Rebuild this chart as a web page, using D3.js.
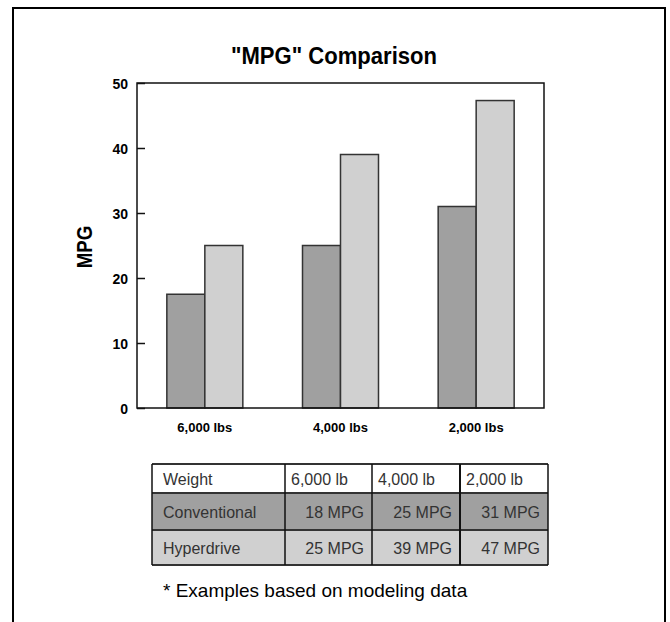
<!DOCTYPE html>
<html lang="en">
<head>
<meta charset="UTF-8">
<title>MPG Comparison</title>
<script src="https://d3js.org/d3.v7.min.js"></script>
<style>
  body { margin: 0; background: #fff; font-family: "Liberation Sans", Arial, sans-serif; }
  .tick text { font-weight: bold; font-size: 14px; }
</style>
</head>
<body>
<svg id="chart" width="670" height="622"></svg>
<script>
// data
const weights = ['6,000 lbs', '4,000 lbs', '2,000 lbs'];
const series = ['Conventional', 'Hyperdrive'];
const conventional = [17.5, 25, 31];
const hyperdrive = [25, 39, 47.3];
const yTicks = [0, 10, 20, 30, 40, 50];
const tableHead = ['Weight', '6,000 lb', '4,000 lb', '2,000 lb'];
const tableConv = ['Conventional', '18 MPG', '25 MPG', '31 MPG'];
const tableHyper = ['Hyperdrive', '25 MPG', '39 MPG', '47 MPG'];
const note = '* Examples based on modeling data';

const colors = { Conventional: '#a0a0a0', Hyperdrive: '#d0d0d0' };

const svg = d3.select('#chart');

// outer frame
svg.append('rect')
    .attr('x', 13).attr('y', 8)
    .attr('width', 652).attr('height', 640)
    .attr('fill', 'none')
    .attr('stroke', '#000')
    .attr('stroke-width', 2);

const plot = { left: 137, top: 83, right: 544, bottom: 408 };

const x = d3.scaleBand()
    .domain(weights)
    .range([plot.left, plot.right]);
const xs = d3.scaleBand()
    .domain(series)
    .range([0, 76]);
const y = d3.scaleLinear()
    .domain([0, 50])
    .range([plot.bottom, plot.top]);

// title (slightly condensed like the original)
svg.append('text')
    .attr('transform', 'translate(334,64) scale(0.92,1)')
    .attr('text-anchor', 'middle')
    .style('font-weight', 'bold')
    .style('font-size', '24px')
    .text('"MPG" Comparison');

// y label
svg.append('text')
    .attr('transform', 'translate(92,247) rotate(-90) scale(0.85,1)')
    .attr('text-anchor', 'middle')
    .style('font-weight', 'bold')
    .style('font-size', '22px')
    .text('MPG');

// bars
const rows = weights.map((w, i) => ({ w: w, vals: [conventional[i], hyperdrive[i]] }));
const groups = svg.append('g').selectAll('g')
    .data(rows)
    .join('g')
    .attr('transform', d => `translate(${x(d.w) + x.bandwidth() / 2 - 38},0)`);
groups.selectAll('rect')
    .data(d => d.vals.map((v, j) => ({ s: series[j], v: v })))
    .join('rect')
    .attr('x', d => xs(d.s))
    .attr('y', d => y(d.v))
    .attr('width', xs.bandwidth())
    .attr('height', d => y(0) - y(d.v))
    .attr('fill', d => colors[d.s])
    .attr('stroke', '#333')
    .attr('stroke-width', 1.5);

// plot frame
svg.append('rect')
    .attr('x', plot.left).attr('y', plot.top)
    .attr('width', plot.right - plot.left)
    .attr('height', plot.bottom - plot.top)
    .attr('fill', 'none')
    .attr('stroke', '#111')
    .attr('stroke-width', 1.5);

// y axis
const yAxis = svg.append('g')
    .attr('transform', `translate(${plot.left},0)`)
    .call(d3.axisLeft(y).tickValues(yTicks).tickSize(-8).tickPadding(9));
yAxis.select('.domain').remove();
yAxis.selectAll('.tick line').attr('stroke', '#111').attr('stroke-width', 1.5);
yAxis.selectAll('.tick text').attr('fill', '#000').attr('dy', '0.36em');

// x axis labels
const xAxis = svg.append('g')
    .attr('transform', `translate(0,${plot.bottom})`)
    .call(d3.axisBottom(x).tickSize(0).tickPadding(15));
xAxis.select('.domain').remove();
xAxis.selectAll('.tick text').attr('fill', '#000').style('font-size', '13px');

// table
const cols = [152, 285, 372, 460, 548];
const rowTops = [464, 493, 530, 565];
const tableRows = [
    { cells: tableHead, fill: '#fff' },
    { cells: tableConv, fill: colors.Conventional },
    { cells: tableHyper, fill: colors.Hyperdrive }
];
const table = svg.append('g');
tableRows.forEach((r, i) => {
    const top = rowTops[i], h = rowTops[i + 1] - rowTops[i];
    table.append('rect')
        .attr('x', cols[0]).attr('y', top)
        .attr('width', cols[4] - cols[0]).attr('height', h)
        .attr('fill', r.fill);
    r.cells.forEach((c, j) => {
        const right = i > 0 && j > 0;
        table.append('text')
            .attr('x', right ? cols[j + 1] - 8 : cols[j] + (j == 0 ? 11 : 6))
            .attr('y', top + h / 2 + 6)
            .attr('text-anchor', right ? 'end' : 'start')
            .attr('fill', '#333')
            .style('font-size', '16px')
            .text(c);
    });
});
rowTops.forEach(t => {
    table.append('line')
        .attr('x1', cols[0]).attr('x2', cols[4])
        .attr('y1', t).attr('y2', t)
        .attr('stroke', '#333').attr('stroke-width', 2);
});
cols.forEach((c, j) => {
    table.append('line')
        .attr('x1', c).attr('x2', c)
        .attr('y1', rowTops[0]).attr('y2', rowTops[3])
        .attr('stroke', '#111').attr('stroke-width', j == 3 ? 2 : 1.5);
});

// note
svg.append('text')
    .attr('x', 163).attr('y', 597)
    .style('font-size', '19px')
    .attr('fill', '#000')
    .text(note);
</script>
</body>
</html>
